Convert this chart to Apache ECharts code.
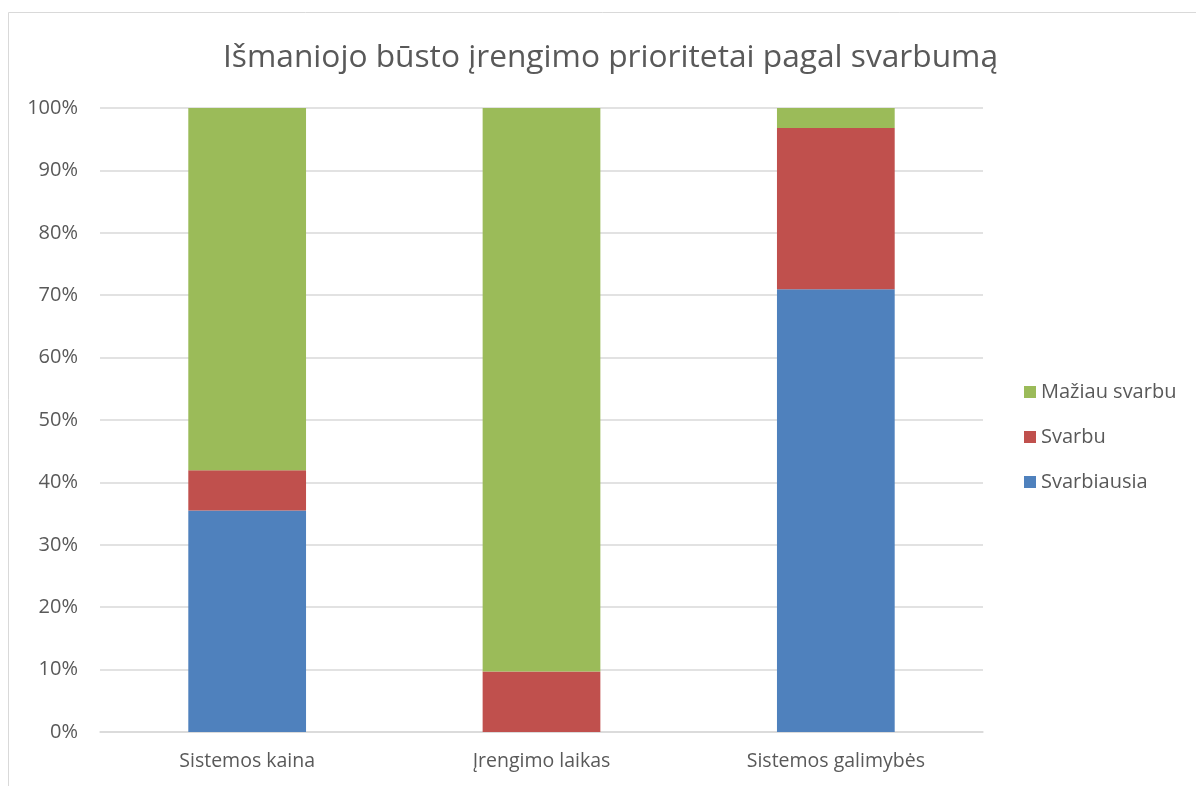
<!DOCTYPE html>
<html>
<head>
<meta charset="utf-8">
<script src="https://cdn.jsdelivr.net/npm/echarts@6/dist/echarts.min.js"></script>
<style>
html,body{margin:0;padding:0;background:#fff;}
#c{width:1196px;height:786px;}
</style>
</head>
<body>
<div id="c"></div>
<script>
const categories = ['Sistemos kaina', 'Įrengimo laikas', 'Sistemos galimybės'];
const svarbiausia = [35.48, 0, 70.97];
const svarbu = [6.45, 9.68, 25.81];
const maziauSvarbu = [58.06, 90.32, 3.23];
const yTicks = [0, 10, 20, 30, 40, 50, 60, 70, 80, 90, 100];

const font = '"Open Sans", sans-serif';
const chart = echarts.init(document.getElementById('c'));
chart.setOption({
  animation: false,
  title: {
    text: 'Išmaniojo būsto įrengimo prioritetai pagal svarbumą',
    left: 218, top: 37,
    textStyle: {fontFamily: font, fontSize: 31.7, fontWeight: 'normal', color: '#595959'}
  },
  graphic: [{
    type: 'rect', shape: {x: 8.5, y: 12.5, width: 1300, height: 900},
    style: {fill: 'none', stroke: '#D9D9D9', lineWidth: 1}, silent: true
  }],
  legend: {
    orient: 'vertical', left: 1019, top: 375,
    itemWidth: 12, itemHeight: 12, itemGap: 21,
    icon: 'rect',
    data: ['Mažiau svarbu', 'Svarbu', 'Svarbiausia'],
    textStyle: {fontFamily: font, fontSize: 20, color: '#595959', padding: [0,0,0,0], lineHeight: 24}
  },
  grid: {left: 100, right: 213, top: 108, bottom: 54},
  xAxis: {
    type: 'category', data: categories,
    axisLine: {lineStyle: {color: '#D9D9D9', width: 1.5}},
    axisTick: {show: false},
    axisLabel: {fontFamily: font, fontSize: 19.5, color: '#595959', margin: 19}
  },
  yAxis: {
    type: 'value', min: 0, max: 100, interval: 10,
    axisLine: {show: false}, axisTick: {show: false},
    splitLine: {lineStyle: {color: '#D9D9D9', width: 1.5}},
    axisLabel: {fontFamily: font, fontSize: 20, color: '#595959', margin: 22,
      formatter: v => yTicks.includes(v) ? v + '%' : ''}
  },
  series: [
    {name: 'Svarbiausia', type: 'bar', stack: 's', data: svarbiausia, barWidth: '40%', itemStyle: {color: '#4F81BD'}},
    {name: 'Svarbu', type: 'bar', stack: 's', data: svarbu, itemStyle: {color: '#C0504D'}},
    {name: 'Mažiau svarbu', type: 'bar', stack: 's', data: maziauSvarbu, itemStyle: {color: '#9BBB59'}}
  ]
});
</script>
</body>
</html>
